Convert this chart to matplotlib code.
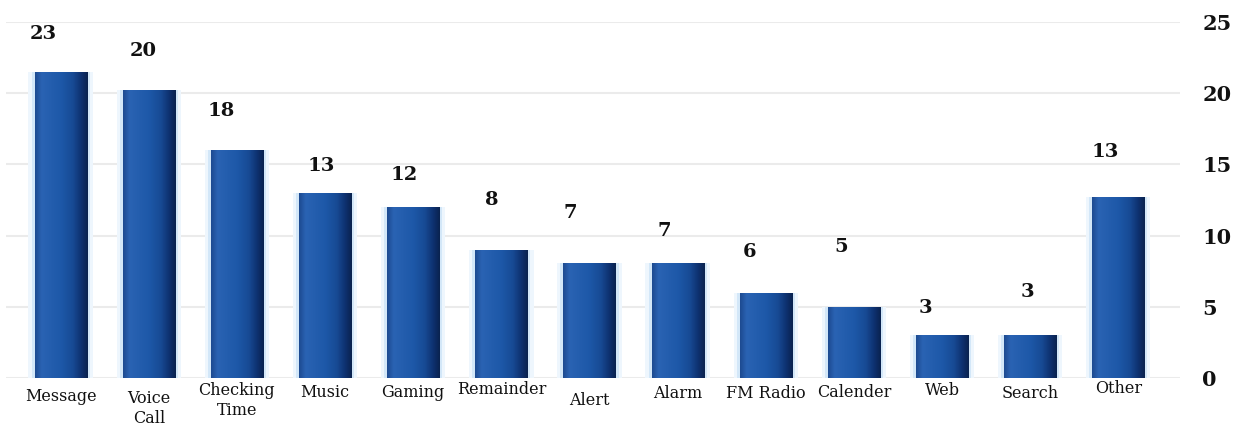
import numpy as np
import matplotlib.pyplot as plt
from matplotlib.colors import LinearSegmentedColormap

# Values
categories = ['Message', 'Voice\nCall', 'Checking\nTime', 'Music', 'Gaming',
              'Remainder', 'Alert', 'Alarm', 'FM Radio', 'Calender', 'Web',
              'Search', 'Other']
bar_heights = [21.5, 20.2, 16.0, 13.0, 12.0, 9.0, 8.1, 8.1, 6.0, 5.0, 3.0, 3.0, 12.7]
value_labels = ['23', '20', '18', '13', '12', '8', '7', '7', '6', '5', '3', '3', '13']
y_ticks = [0, 5, 10, 15, 20, 25]

# label placement (pixels from bar top centre), the source is uneven
label_dx = [-17, -6, -16, -4, -9, -10, -19, -13, -16, -13, -17, -3, -13]
label_dy = [38, 39, 39, 27, 32, 50, 50, 32, 41, 60, 27, 43, 45]
cat_dy = [0, 2, -6, -4, -4, -7, 4, -3, -3, -4, -6, -3, -8]

serif = ['DejaVu Serif']
bar_cmap = LinearSegmentedColormap.from_list(
    'bar', [(0.0, '#1d4b92'), (0.12, '#2a63b3'), (0.5, '#1d58a8'),
            (0.72, '#174a94'), (0.88, '#0e3170'), (1.0, '#0a2350')])

fig = plt.figure(figsize=(12.4, 4.26), dpi=100)
ax = fig.add_axes([6 / 1240, 48 / 426, 1174 / 1240, 356 / 426])

x = np.arange(len(categories))
width = 0.59

# pale glow around each bar
ax.bar(x, bar_heights, width=width + 0.14, color='#eef6fd', zorder=1)
ax.bar(x, bar_heights, width=width + 0.07, color='#d3e7f8', zorder=1)
bars = ax.bar(x, bar_heights, width=width, color='#1d58a8', zorder=2)

grad = np.linspace(0, 1, 64).reshape(1, -1)
for b in bars:
    im = ax.imshow(grad, cmap=bar_cmap, aspect='auto', zorder=3,
                   extent=[b.get_x(), b.get_x() + b.get_width(), 0, b.get_height()])
    im.set_clip_path(b)

for b, txt, dx, dy in zip(bars, value_labels, label_dx, label_dy):
    ax.annotate(txt, (b.get_x() + b.get_width() / 2, b.get_height()),
                xytext=(dx, dy), textcoords='offset pixels',
                ha='center', va='center', fontsize=14, fontweight='bold',
                family=serif, color='#111111')

for xi, name, dy in zip(x, categories, cat_dy):
    ax.annotate(name, (xi, 0), xytext=(0, -10 - dy), textcoords='offset pixels',
                ha='center', va='top', fontsize=11.5, family=serif,
                color='#111111', linespacing=1.2, annotation_clip=False)

ax.set_xlim(-0.62, 12.70)
ax.set_ylim(0, 25)
ax.set_xticks([])
ax.set_yticks(y_ticks)
ax.yaxis.tick_right()
ax.tick_params(axis='y', length=0, pad=16)
for lbl in ax.get_yticklabels():
    lbl.set_fontsize(15)
    lbl.set_fontweight('bold')
    lbl.set_family(serif)
    lbl.set_color('#111111')
    lbl.set_horizontalalignment('left')

ax.grid(axis='y', color='#ebebeb', linewidth=1.5, zorder=0)
ax.set_axisbelow(True)
for s in ax.spines.values():
    s.set_visible(False)

fig.savefig('out.png', dpi=100, facecolor='white')
